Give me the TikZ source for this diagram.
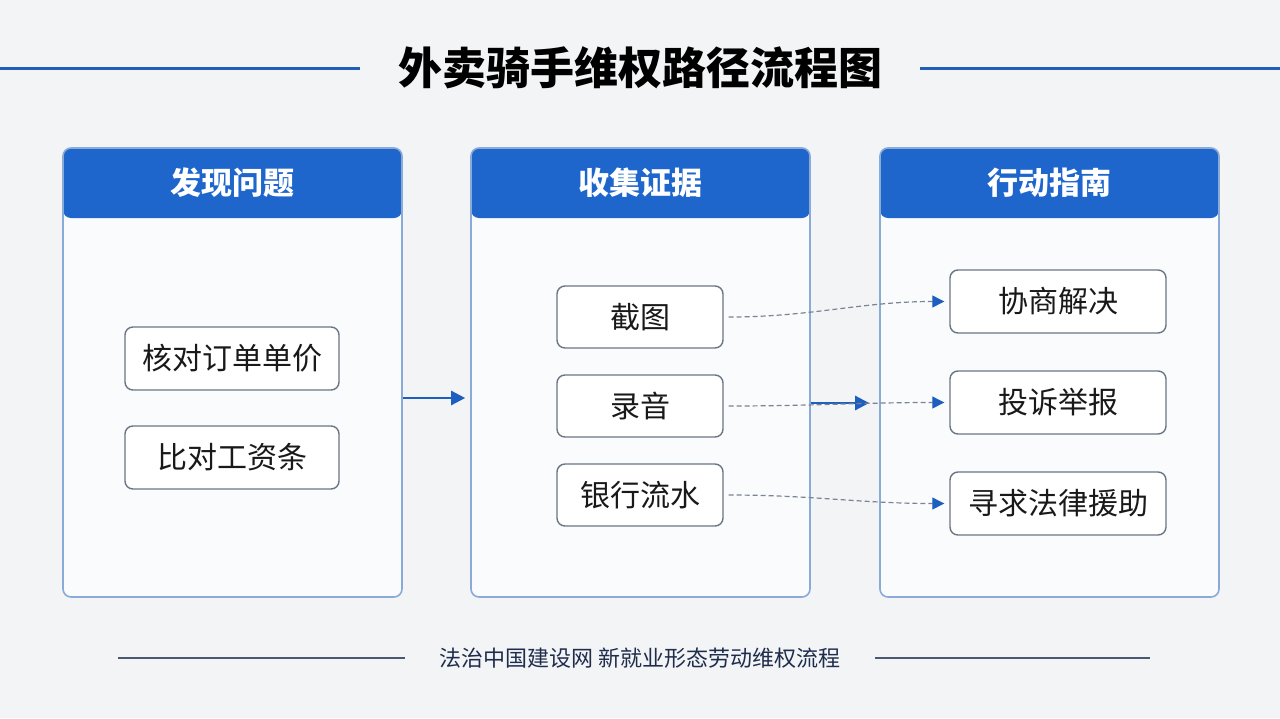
\documentclass[tikz,border=0pt]{standalone}
\usepackage{fontspec}
\newfontfamily\cjk{Noto Sans CJK SC}
\usetikzlibrary{arrows.meta}
\definecolor{bgcol}{HTML}{F3F4F6}
\definecolor{panelcol}{HTML}{FAFBFD}
\definecolor{edgecol}{HTML}{8AAAD8}
\definecolor{headcol}{HTML}{1E66CC}
\definecolor{linecol}{HTML}{1F5FB8}
\definecolor{boxcol}{HTML}{6B7685}
\definecolor{dashcol}{HTML}{7A8494}
\definecolor{tipcol}{HTML}{1D5FBF}
\definecolor{footcol}{HTML}{1F2D4D}
\tikzset{
    panel/.style={draw=edgecol, line width=.8pt, fill=panelcol, rounded corners=4pt,
        minimum width=169.5pt, minimum height=224.5pt,
        path picture={\fill[headcol] (path picture bounding box.north west) rectangle ([yshift=-35pt]path picture bounding box.north east);}},
    headtxt/.style={text=white, font=\cjk\bfseries\fontsize{15.5}{18}\selectfont},
    item/.style={draw=boxcol, line width=.7pt, fill=white, rounded corners=4pt,
        minimum height=31.5pt, font=\cjk\fontsize{15}{18}\selectfont, text=black!90},
    flow/.style={-{Triangle[length=7pt,width=7pt]}, draw=tipcol, line width=1.2pt},
    hint/.style={-{Triangle[length=6pt,width=6pt,color=tipcol]}, draw=dashcol, line width=.6pt,
        dash pattern=on 2.5pt off 1.5pt, shorten <=2.5pt, shorten >=2.5pt}
}
\begin{document}
\begin{tikzpicture}[x=.5pt, y=-.5pt]
    \useasboundingbox (0,0) rectangle (1280,718);
    \fill[bgcol] (0,0) rectangle (1280,718);
    % title
    \node[font=\cjk\bfseries\fontsize{22}{26}\selectfont, inner xsep=19pt] (title) at (640,68) {外卖骑手维权路径流程图};
    \coordinate (tl) at (0,68);
    \coordinate (tr) at (1280,68);
    \draw[linecol, line width=1.5pt] (tl) -- (title.west);
    \draw[linecol, line width=1.5pt] (title.east) -- (tr);
    % panels
    \node[panel] (p1) at (232.5,372.5) {};
    \node[panel] (p2) at (640.5,372.5) {};
    \node[panel] (p3) at (1049.5,372.5) {};
    \node[headtxt] (h1) at ([yshift=-17.5pt]p1.north) {发现问题};
    \node[headtxt] (h2) at ([yshift=-17.5pt]p2.north) {收集证据};
    \node[headtxt] (h3) at ([yshift=-17.5pt]p3.north) {行动指南};
    % boxes
    \node[item, minimum width=107pt] (a1) at (232,358.5) {核对订单单价};
    \node[item, minimum width=107pt] (a2) at (232,457.5) {比对工资条};
    \node[item, minimum width=83pt, minimum height=31pt] (b1) at (640,317) {截图};
    \node[item, minimum width=83pt, minimum height=31pt] (b2) at (640,406) {录音};
    \node[item, minimum width=83pt, minimum height=31pt] (b3) at (640,495) {银行流水};
    \node[item, minimum width=108pt] (c1) at (1058,301.5) {协商解决};
    \node[item, minimum width=108pt] (c2) at (1058,402.5) {投诉举报};
    \node[item, minimum width=108pt] (c3) at (1058,503.5) {寻求法律援助};
    % arrows
    \draw[flow, shorten >=2.5pt] ([yshift=-12.75pt]p1.east) -- ([yshift=-12.75pt]p2.west);
    \draw[flow, shorten >=5pt] ([yshift=-15.25pt]p2.east) -- ([yshift=-15.25pt]p3.west);
    \draw[hint] (b1.east) to[out=0, in=180] (c1.west);
    \draw[hint] (b2.east) to[out=0, in=180] (c2.west);
    \draw[hint] (b3.east) to[out=0, in=180] (c3.west);
    % footer
    \node[font=\cjk\fontsize{11}{13}\selectfont, text=footcol, inner xsep=17pt] (foot) at (640,658) {法治中国建设网 新就业形态劳动维权流程};
    \coordinate (fl) at (118,658);
    \coordinate (fr) at (1150,658);
    \draw[footcol!80, line width=.9pt] (fl) -- (foot.west);
    \draw[footcol!80, line width=.9pt] (foot.east) -- (fr);
\end{tikzpicture}
\end{document}
